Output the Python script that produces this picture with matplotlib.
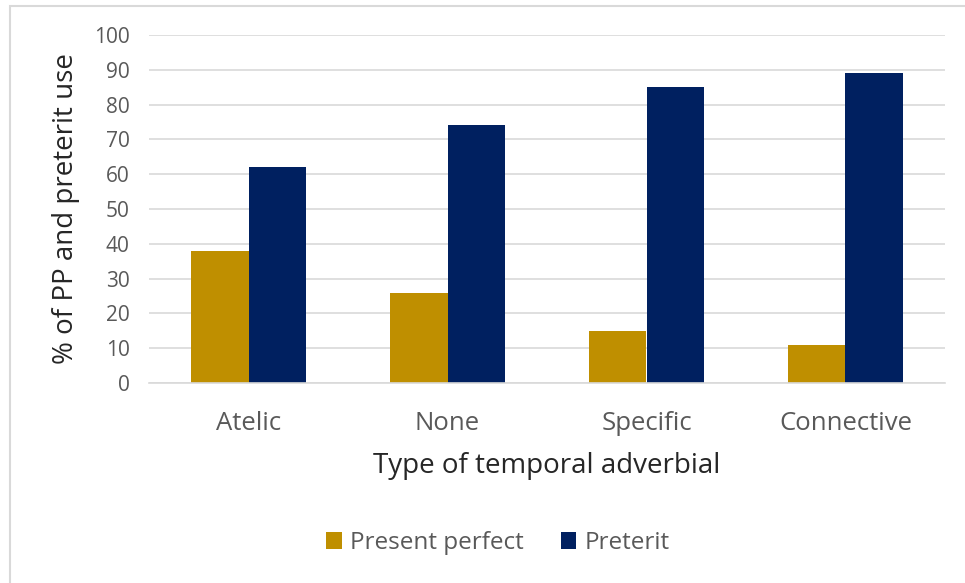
import matplotlib.pyplot as plt
import numpy as np
from matplotlib.patches import Rectangle

# Share of present perfect vs preterit by adverbial type
categories = ['Atelic', 'None', 'Specific', 'Connective']
present_perfect = [38, 26, 15, 11]
preterit = [62, 74, 85, 89]

gold = '#BF8F00'
navy = '#002060'
text_grey = '#595959'

plt.rcParams['font.family'] = ['Open Sans', 'DejaVu Sans']

W, H = 965, 583
fig = plt.figure(figsize=(W / 100, H / 100), dpi=100)

# plot area in pixel terms
left, right, top, bottom = 149, 945, 35, 383
ax = fig.add_axes([left / W, 1 - bottom / H, (right - left) / W, (bottom - top) / H])

x = np.arange(len(categories))
width = 0.287
ax.bar(x - width / 2, present_perfect, width, color=gold, label='Present perfect')
ax.bar(x + width / 2, preterit, width, color=navy, label='Preterit')

ax.set_xlim(-0.5, len(categories) - 0.5)
ax.set_ylim(0, 100)
ax.set_yticks(range(0, 101, 10))
ax.set_xticks(x)
ax.set_xticklabels(categories)
ax.yaxis.grid(True, color='#D9D9D9', linewidth=1.2)
ax.set_axisbelow(True)
for s in ['top', 'right', 'left']:
    ax.spines[s].set_visible(False)
ax.spines['bottom'].set_color('#D9D9D9')
ax.spines['bottom'].set_linewidth(1.2)
ax.tick_params(axis='both', length=0, colors=text_grey)
ax.tick_params(axis='y', labelsize=15, pad=14)
ax.tick_params(axis='x', labelsize=18.5, pad=20)

ax.set_xlabel('Type of temporal adverbial', fontsize=20, color='#262626', labelpad=12)
ax.set_ylabel('% of PP and preterit use', fontsize=20, color='#262626', labelpad=10)

fig.legend(loc='center', bbox_to_anchor=(498 / W, 1 - 543 / H), ncol=2, frameon=False,
           fontsize=17.5, labelcolor=text_grey, handlelength=0.65, handleheight=0.65,
           handletextpad=0.35, columnspacing=1.5)

# chart frame
fig.patches.append(Rectangle((10 / W, -0.1), 1.2, 1 - 6 / H + 0.1, transform=fig.transFigure,
                             fill=False, edgecolor='#D9D9D9', linewidth=1.5))

fig.savefig('out.png', dpi=100)
